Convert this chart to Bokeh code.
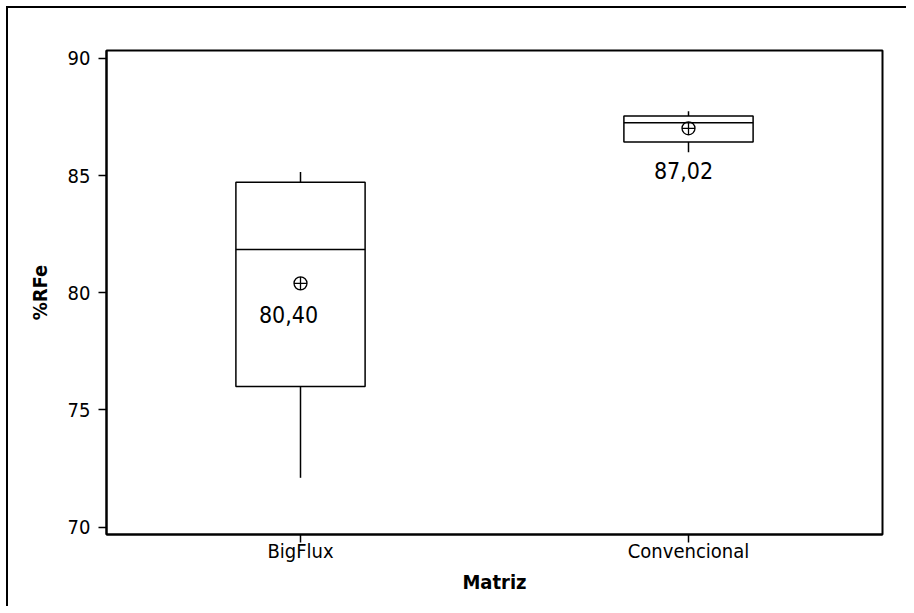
from bokeh.plotting import figure
from bokeh.models import FactorRange, ColumnDataSource
from bokeh.transform import dodge
from bokeh.core.properties import value
from bokeh.embed import file_html
from bokeh.resources import INLINE

# ---- data ----
categories = ["BigFlux", "Convencional"]
whisker_low = [72.1, 86.0]
q1 = [76.0, 86.43]
median = [81.85, 87.26]
q3 = [84.72, 87.54]
whisker_high = [85.15, 87.75]
means = [80.40, 87.02]
mean_labels = [f"{m:.2f}".replace(".", ",") for m in means]
y_ticks = [70, 75, 80, 85, 90]

# ---- styles ----
FONT = "DejaVu Sans Condensed"
box_width = 0.333
label_x_offset = [-12, -5]
label_y_offset = [31, 42]

src = ColumnDataSource(dict(
    cat=categories, wl=whisker_low, q1=q1, med=median, q3=q3, wh=whisker_high,
    mean=means, lab=mean_labels, xo=label_x_offset, yo=label_y_offset,
))

p = figure(
    x_range=FactorRange(*categories, range_padding=0),
    y_range=(69.68, 90.34),
    width=900, height=600,
    output_backend="svg", toolbar_location=None,
    min_border_left=98, min_border_right=26, min_border_top=42, min_border_bottom=74,
    styles={"border-top": "2px solid black", "border-left": "2px solid black",
            "margin-left": "6px", "margin-top": "6px"},
)

p.xgrid.visible = False
p.ygrid.visible = False
p.outline_line_color = "black"
p.outline_line_width = 2
p.background_fill_color = "white"
p.border_fill_color = "white"

# boxes
p.vbar(x="cat", bottom="q1", top="q3", width=box_width, source=src,
       fill_color=None, line_color="black", line_width=1.5)
# medians
p.segment(x0=dodge("cat", -box_width / 2, range=p.x_range), x1=dodge("cat", box_width / 2, range=p.x_range),
          y0="med", y1="med", source=src, line_color="black", line_width=1.5)
# whiskers
p.segment(x0="cat", x1="cat", y0="q3", y1="wh", source=src, line_color="black", line_width=1.5)
p.segment(x0="cat", x1="cat", y0="q1", y1="wl", source=src, line_color="black", line_width=1.5)
# means
p.scatter(x="cat", y="mean", marker="circle_cross", size=13, source=src,
          fill_color=None, line_color="black", line_width=1.3)
p.text(x="cat", y="mean", text="lab", x_offset="xo", y_offset="yo", source=src,
       text_align="center", text_baseline="middle", text_font=value(FONT),
       text_font_size="23px", text_color="black")

# axes
for ax in (p.xaxis[0], p.yaxis[0]):
    ax.axis_line_color = "black"
    ax.axis_line_width = 2
    ax.major_tick_line_color = "black"
    ax.major_tick_line_width = 1.5
    ax.major_tick_in = 0
    ax.minor_tick_line_color = None
    ax.major_label_text_font = FONT
    ax.major_label_text_font_size = "20px"
    ax.major_label_text_color = "black"
    ax.axis_label_text_font = FONT
    ax.axis_label_text_font_size = "20px"
    ax.axis_label_text_font_style = "bold"
    ax.axis_label_text_color = "black"

p.yaxis.ticker = y_ticks
p.yaxis.major_tick_out = 8
p.yaxis.major_label_standoff = 8
p.yaxis.axis_label = "%RFe"
p.yaxis.axis_label_standoff = 13

p.xaxis.major_tick_out = 8
p.xaxis.major_label_standoff = -4
p.xaxis.axis_label = "Matriz"
p.xaxis.axis_label_standoff = 4

open("out.html", "w").write(file_html(p, INLINE))
